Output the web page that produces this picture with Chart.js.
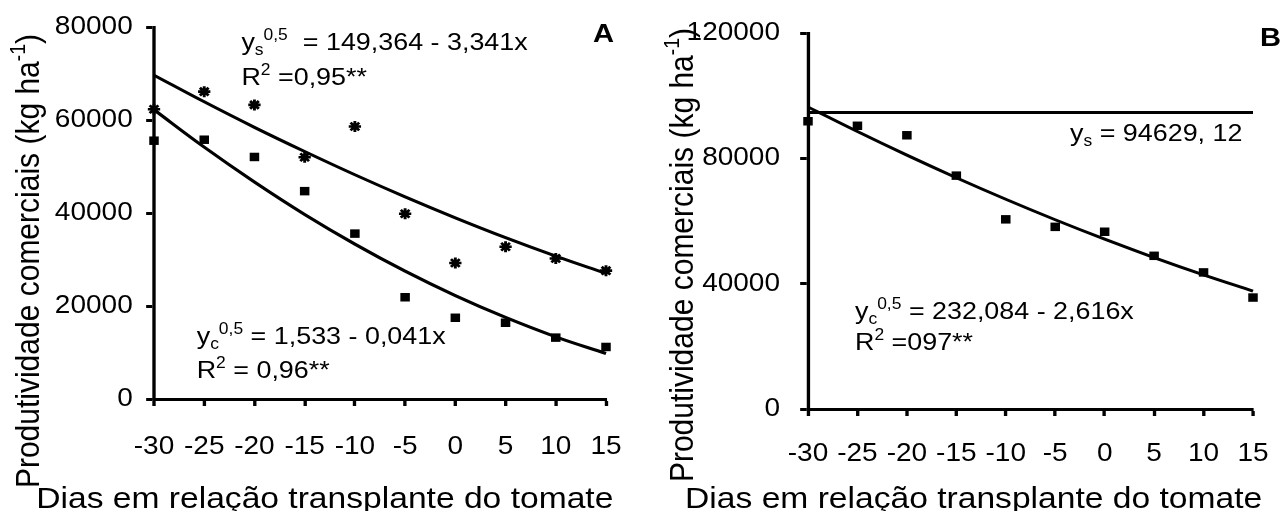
<!DOCTYPE html>
<html lang="pt">
<head>
  <meta charset="UTF-8" />
  <title>Produtividade comercial - tomate</title>
  <script src="https://cdn.jsdelivr.net/npm/chart.js"></script>
  <style>
    body {
      margin: 0;
      padding: 0;
      background: #ffffff;
      width: 1282px;
      height: 511px;
      overflow: hidden;
    }
    .panel {
      position: absolute;
      top: 0;
      width: 641px;
      height: 511px;
    }
    #panelA { left: 0; }
    #panelB { left: 641px; }
  </style>
</head>
<body>
  <div class="panel" id="panelA"><canvas id="chartA" width="641" height="511"></canvas></div>
  <div class="panel" id="panelB"><canvas id="chartB" width="641" height="511"></canvas></div>

  <script>
    // dias em relação ao transplante
    const days = [-30, -25, -20, -15, -10, -5, 0, 5, 10, 15];

    // painel A
    const prodA_s = [62300, 66100, 63250, 52000, 58600, 39850, 29240, 32730, 30230, 27600];
    const prodA_c = [55550, 55760, 52050, 44700, 35570, 21880, 17470, 16400, 13200, 11190];
    const fitA_s = [69640, 63910, 58420, 53220, 48220, 43470, 38970, 34710, 30730, 27000];
    const fitA_c = [62200, 54150, 46660, 39680, 33310, 27490, 22230, 17530, 13360, 9780];

    // painel B
    const prodB_c = [91830, 90390, 87360, 74480, 60530, 58130, 56570, 48890, 43590, 35570];
    const fitB_c = [96400, 88550, 81010, 73810, 66940, 60400, 54200, 48340, 42810, 37640];
    const fitB_s = 94629;

    const yMaxA = 80000, yStepA = 20000;
    const yMaxB = 120000, yStepB = 40000;

    const FONT = '"Liberation Sans", Arial, sans-serif';
    const STRETCH = 1.12;   // the figure text is drawn a bit wide
    Chart.defaults.font.family = FONT;
    Chart.defaults.color = '#000';

    const pts = (ys) => days.map((d, i) => ({ x: d, y: ys[i] }));

    // draws text made of runs: [text, 'sub' | 'sup' | undefined]
    function runsWidth(ctx, runs, size, bold) {
      let w = 0;
      for (const [t, kind] of runs) {
        const fs = kind ? size * 0.65 : size;
        ctx.font = `${bold ? 'bold ' : ''}${fs}px ${FONT}`;
        w += ctx.measureText(t).width;
      }
      return w;
    }
    function drawRuns(ctx, x, y, runs, size, bold) {
      let cx = x;
      ctx.textBaseline = 'alphabetic';
      ctx.textAlign = 'left';
      for (const [t, kind] of runs) {
        const fs = kind ? size * 0.65 : size;
        ctx.font = `${bold ? 'bold ' : ''}${fs}px ${FONT}`;
        const dy = kind === 'sup' ? -size * 0.42 : kind === 'sub' ? size * 0.2 : 0;
        ctx.fillText(t, cx, y + dy);
        cx += ctx.measureText(t).width;
      }
    }

    const yTitle = [['Produtividade comerciais (kg ha'], ['-1', 'sup'], [')']];
    const xTitle = [['Dias em relação transplante do tomate']];

    // stretches the whole drawing and writes equations and titles
    const figurePlugin = {
      id: 'figure',
      beforeDraw(chart) {
        chart.ctx.save();
        chart.ctx.scale(STRETCH, 1);
      },
      afterDraw(chart, args, opts) {
        const ctx = chart.ctx;
        const xs = chart.scales.x, ys = chart.scales.y;
        ctx.fillStyle = '#000';
        for (const n of opts.notes) {
          drawRuns(ctx, xs.getPixelForValue(n.x), ys.getPixelForValue(n.y), n.runs, n.size, n.bold);
        }
        // y axis title
        const t = opts.titles;
        ctx.save();
        ctx.translate(t.yx, t.yy);
        ctx.rotate(-Math.PI / 2);
        drawRuns(ctx, -runsWidth(ctx, yTitle, 30) / 2, 0, yTitle, 30);
        ctx.restore();
        // x axis title
        drawRuns(ctx, t.xx - runsWidth(ctx, xTitle, 30) / 2, t.xy, xTitle, 30);
        ctx.restore();
      }
    };

    function axes(yMax, yStep, yWidth, xHeight, yPad, xPad) {
      const grid = { drawOnChartArea: false, tickLength: 7, tickWidth: 3, tickColor: '#000' };
      const border = { color: '#000', width: 3 };
      return {
        x: {
          type: 'linear', min: -30, max: 15,
          ticks: { stepSize: 5, font: { size: 25 }, padding: xPad, autoSkip: false,
                   minRotation: 0, maxRotation: 0, callback: v => String(v) },
          grid, border,
          afterFit(s) { s.height = xHeight; }
        },
        y: {
          min: 0, max: yMax,
          ticks: { stepSize: yStep, font: { size: 25 }, padding: yPad, callback: v => String(v) },
          grid, border,
          afterFit(s) { s.width = yWidth; }
        }
      };
    }

    const markSquare = { pointStyle: 'rect', pointRadius: 6, backgroundColor: '#000', borderColor: '#000', borderWidth: 0 };
    const markStar = { pointStyle: 'star', pointRadius: 5.5, borderColor: '#000', borderWidth: 2.6 };
    const fitLine = { borderColor: '#000', borderWidth: 3, pointRadius: 0, tension: 0.4, showLine: true };

    new Chart(document.getElementById('chartA'), {
      type: 'scatter',
      data: {
        datasets: [
          { data: pts(fitA_s), ...fitLine, clip: false },
          { data: pts(fitA_c), ...fitLine, clip: false },
          { data: pts(prodA_s), ...markStar, showLine: false, clip: false },
          { data: pts(prodA_c), ...markSquare, showLine: false, clip: false }
        ]
      },
      options: {
        responsive: false,
        animation: false,
        events: [],
        layout: { padding: { left: 0, top: 25, right: 641 - 606 / STRETCH, bottom: 0 } },
        scales: axes(yMaxA, yStepA, 154 / STRETCH, 112, 12, 26),
        plugins: {
          legend: { display: false },
          tooltip: { enabled: false },
          figure: {
            titles: { yx: 39 / STRETCH, yy: 261, xx: 290, xy: 508 },
            notes: [
              { x: -21.3, y: 75000, size: 24, runs: [['y'], ['s', 'sub'], ['0,5', 'sup'], ['  = 149,364 - 3,341x']] },
              { x: -21.3, y: 67500, size: 24, runs: [['R'], ['2', 'sup'], [' =0,95**']] },
              { x: -25.75, y: 11760, size: 24, runs: [['y'], ['c', 'sub'], ['0,5', 'sup'], [' = 1,533 - 0,041x']] },
              { x: -25.75, y: 4430, size: 24, runs: [['R'], ['2', 'sup'], [' = 0,96**']] },
              { x: 13.7, y: 76800, size: 26, bold: true, runs: [['A']] }
            ]
          }
        }
      },
      plugins: [figurePlugin]
    });

    new Chart(document.getElementById('chartB'), {
      type: 'scatter',
      data: {
        datasets: [
          { data: [{ x: -30, y: fitB_s }, { x: 15, y: fitB_s }], ...fitLine, tension: 0, clip: false },
          { data: pts(fitB_c), ...fitLine, clip: false },
          { data: pts(prodB_c), ...markSquare, showLine: false, clip: false }
        ]
      },
      options: {
        responsive: false,
        animation: false,
        events: [],
        layout: { padding: { left: 0, top: 25, right: 641 - 612 / STRETCH, bottom: 0 } },
        scales: axes(yMaxB, yStepB, 167 / STRETCH, 102, 18, 23),
        plugins: {
          legend: { display: false },
          tooltip: { enabled: false },
          figure: {
            titles: { yx: 52 / STRETCH, yy: 255, xx: 297, xy: 508 },
            notes: [
              { x: -3.5, y: 85490, size: 24, runs: [['y'], ['s', 'sub'], [' = ' + fitB_s + ', 12']] },
              { x: -25.25, y: 28800, size: 24, runs: [['y'], ['c', 'sub'], ['0,5', 'sup'], [' = 232,084 - 2,616x']] },
              { x: -25.25, y: 18720, size: 24, runs: [['R'], ['2', 'sup'], [' =097**']] },
              { x: 15.7, y: 115980, size: 26, bold: true, runs: [['B']] }
            ]
          }
        }
      },
      plugins: [figurePlugin]
    });
  </script>
</body>
</html>
